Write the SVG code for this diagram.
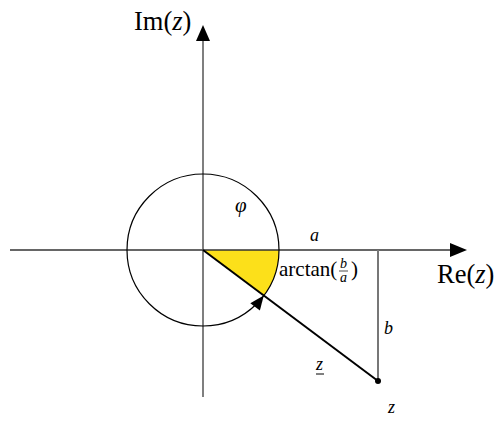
<svg xmlns="http://www.w3.org/2000/svg" width="501" height="426" viewBox="0 0 501 426">
<defs>
<style>
.i{font-style:italic}
.ax{stroke:#555;stroke-width:1.5;fill:none}
</style>
</defs>
<rect width="501" height="426" fill="#fff"/>
<g id="wedge">
<path d="M203,250 L279,250 A76,76 0 0 1 263.8,295.6 Z" fill="#FCE01A"/>
</g>
<g id="connectors">
<line class="ax" x1="10" y1="250" x2="452" y2="250" style="stroke:#333"/>
<polygon points="467,250 450,243 450,257" fill="#000"/>
<line class="ax" x1="203" y1="40" x2="203" y2="397"/>
<polygon points="203,25 196,41 210,41" fill="#000"/>
<line x1="378" y1="250" x2="378" y2="381" stroke="#777" stroke-width="2"/>
<line x1="203" y1="250" x2="378" y2="381" stroke="#000" stroke-width="2"/>
<circle cx="203" cy="250" r="76" fill="none" stroke="#000" stroke-width="1.2"/>
<polygon points="263.8,295.6 259.9,310.4 250.3,303.2" fill="#000"/>
<circle cx="378" cy="381" r="3" fill="#000"/>
</g>
<g id="labels" font-family="Liberation Serif, serif" fill="#000">
<text x="134" y="30" font-size="26.5">Im(<tspan class="i">z</tspan>)</text>
<text x="437" y="283" font-size="26.5">Re(<tspan class="i">z</tspan>)</text>
<text class="i" x="235" y="212" font-size="21">φ</text>
<text class="i" x="310" y="241" font-size="18">a</text>
<text x="279" y="276" font-size="21">arctan(</text>
<text class="i" x="340" y="268" font-size="14">b</text>
<line x1="339" y1="271" x2="348" y2="271" stroke="#000" stroke-width="0.7"/>
<text class="i" x="340" y="282" font-size="14">a</text>
<text x="351" y="276" font-size="21">)</text>
<text class="i" x="384" y="334" font-size="18">b</text>
<text class="i" x="316" y="370" font-size="18">z</text>
<line x1="316" y1="374" x2="324" y2="374" stroke="#000" stroke-width="1"/>
<text class="i" x="388" y="413" font-size="18">z</text>
</g>
</svg>
